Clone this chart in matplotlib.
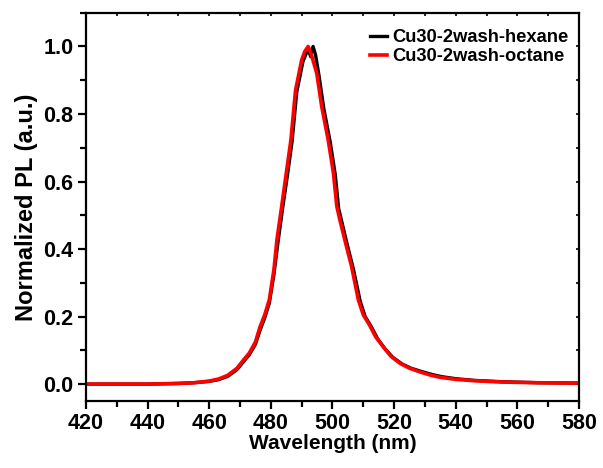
import matplotlib
matplotlib.use("Agg")
import matplotlib.pyplot as plt
from matplotlib.ticker import MultipleLocator, FormatStrFormatter

plt.rcParams['font.family'] = ['Liberation Sans', 'DejaVu Sans']
plt.rcParams['font.weight'] = 'bold'

# Cu30-2wash-hexane (black)
hex_wl = [420, 440, 450, 455, 460, 463, 466, 469, 471, 473, 475, 476.5, 478, 479.5,
          481, 482.3, 483.8, 485.4, 486.9, 488.4, 490.4, 491.5, 492.4, 492.9, 493.7,
          494.5, 495.6, 497.2, 499.3, 500.9, 502.0, 504.6, 506.8, 509.0, 510.6, 512.6,
          514.6, 517.0, 519.5, 522.5, 525.5, 529.0, 532.5, 535.5, 540, 546, 555, 567, 580]
hex_pl = [0.0, 0.0, 0.002, 0.004, 0.008, 0.013, 0.023, 0.043, 0.065, 0.087, 0.118, 0.16,
          0.196, 0.24, 0.325, 0.42, 0.52, 0.62, 0.72, 0.865, 0.955, 0.98, 0.985, 0.97, 1.0,
          0.975, 0.915, 0.815, 0.715, 0.62, 0.52, 0.42, 0.34, 0.245, 0.2, 0.17, 0.135,
          0.105, 0.08, 0.06, 0.047, 0.037, 0.028, 0.022, 0.016, 0.011, 0.007, 0.004, 0.003]

# Cu30-2wash-octane (red)
oct_wl = [420, 440, 450, 455, 460, 463, 466, 469, 471, 473, 475, 476.5, 478, 479.5,
          481, 482, 483.5, 485, 486.5, 488, 490, 491, 492.1, 493, 494.9, 496.5, 498.6,
          500.3, 501.4, 502.4, 504, 506.2, 508.4, 510, 512, 514, 516.5, 519, 522, 525,
          528.4, 532, 535, 540, 546, 555, 567, 580]
oct_pl = [0.0, 0.0, 0.002, 0.004, 0.009, 0.015, 0.026, 0.047, 0.07, 0.092, 0.125, 0.17,
          0.205, 0.25, 0.34, 0.43, 0.526, 0.625, 0.723, 0.87, 0.96, 0.985, 1.0, 0.98,
          0.92, 0.822, 0.723, 0.625, 0.526, 0.486, 0.427, 0.348, 0.249, 0.205, 0.175,
          0.14, 0.11, 0.082, 0.061, 0.047, 0.036, 0.026, 0.02, 0.014, 0.01, 0.006, 0.004, 0.003]

fig = plt.figure(figsize=(6.03, 4.68), dpi=100)
ax = fig.add_axes([0.1426, 0.1432, 0.8176, 0.8297])

ax.plot(hex_wl, hex_pl, color='black', lw=2.4, label='Cu30-2wash-hexane')
ax.plot(oct_wl, oct_pl, color='#ff0000', lw=2.6, label='Cu30-2wash-octane')

ax.set_xlim(420, 580)
ax.set_ylim(-0.05, 1.1)
ax.xaxis.set_major_locator(MultipleLocator(20))
ax.xaxis.set_minor_locator(MultipleLocator(10))
ax.yaxis.set_major_locator(MultipleLocator(0.2))
ax.yaxis.set_minor_locator(MultipleLocator(0.1))
ax.yaxis.set_major_formatter(FormatStrFormatter('%.1f'))

for s in ax.spines.values():
    s.set_linewidth(1.6)

ax.tick_params(which='major', direction='out', length=6, width=1.6,
               labelsize=15.5, bottom=True, left=True, top=False, right=False, pad=3)
ax.tick_params(which='minor', direction='out', length=4, width=1.6,
               bottom=True, left=True, top=False, right=False)
ax2 = ax.secondary_xaxis('top')
ax2.set_xticks(ax.get_xticks(minor=False))
ax2.xaxis.set_minor_locator(MultipleLocator(10))
ax2.tick_params(which='both', direction='in', length=2, width=1.2, labeltop=False)
ax2.spines['top'].set_visible(False)
ay2 = ax.secondary_yaxis('right')
ay2.yaxis.set_major_locator(MultipleLocator(0.2))
ay2.yaxis.set_minor_locator(MultipleLocator(0.1))
ay2.tick_params(which='both', direction='in', length=2, width=1.2, labelright=False)
ay2.spines['right'].set_visible(False)

for lab in ax.get_xticklabels() + ax.get_yticklabels():
    lab.set_fontweight('bold')

ax.set_xlabel('Wavelength (nm)', fontsize=15, fontweight='bold', labelpad=0)
ax.set_ylabel('Normalized PL (a.u.)', fontsize=17, fontweight='bold', labelpad=4)

leg = ax.legend(loc='upper right', bbox_to_anchor=(1.012, 1.0), frameon=False,
                handlelength=0.9, handletextpad=0.3, borderaxespad=0.5,
                labelspacing=0.12, prop={'weight': 'bold', 'size': 13.2})

fig.savefig('out.png', dpi=100)
